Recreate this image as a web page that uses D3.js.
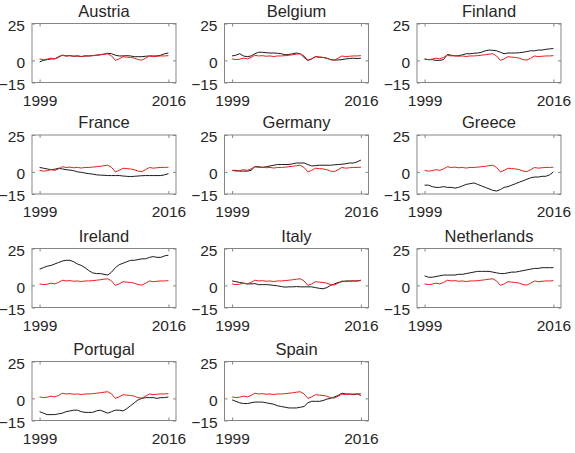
<!DOCTYPE html>
<html>
<head>
<meta charset="utf-8">
<script src="https://cdn.jsdelivr.net/npm/d3@7"></script>
<style>
    body { margin: 0; background: #fff; }
    svg { display: block; font-family: "Liberation Sans", Arial, sans-serif; }
</style>
</head>
<body>
<div id="chart"></div>
<script>
// half-yearly observations, 1999 - 2016
var years = [1999, 1999.5, 2000, 2000.5, 2001, 2001.5, 2002, 2002.5, 2003, 2003.5, 2004, 2004.5,
    2005, 2005.5, 2006, 2006.5, 2007, 2007.5, 2008, 2008.5, 2009, 2009.5, 2010, 2010.5,
    2011, 2011.5, 2012, 2012.5, 2013, 2013.5, 2014, 2014.5, 2015, 2015.5, 2016];

// red line, same in every panel
var benchmark = [1.0, 0.5, 0.8, 1.5, 1.0, 2.0, 3.5, 3.0, 3.2, 2.8, 3.0, 2.6, 3.0, 3.0, 3.2, 3.5, 3.8, 4.2,
    4.5, 3.0, 0.0, 1.0, 2.5, 2.2, 2.0, 1.5, 0.5, 0.2, 1.5, 3.0, 2.5, 2.8, 3.0, 3.0, 3.2];

// black lines, one per country
var austria = [-1, 0, 0.5, 1, 1, 2.5, 3.5, 3, 3.2, 2.8, 3, 2.6, 3, 3, 3.2, 3.5, 3.8, 4.2, 4.8, 4.5,
    3.5, 3, 3, 3.2, 3, 2.5, 2.5, 2.5, 2.8, 3, 3, 3, 3.5, 4.5, 5];
var belgium = [3, 3.5, 4.5, 3, 2.5, 3, 4.5, 5.5, 5.5, 5.2, 5, 5, 4.8, 4.5, 3.8, 4, 4.5, 5, 4.5, 2,
    0, 1, 2.5, 2.2, 2, 1.5, 0.5, 0.2, 0.3, 0.5, 1, 1.2, 1.5, 1.2, 1.5];
var finland = [0.8, 0.5, 0.5, 0, 0, 0.5, 4, 3.5, 3, 3.2, 3.8, 4.5, 4.5, 4.8, 5, 5.5, 6.5, 7, 6.8, 6.5,
    5.5, 4.5, 5, 5, 5, 5.2, 5.5, 6, 6.5, 6.5, 7, 7, 7.5, 7.8, 8];
var france = [3, 2.5, 2, 1.5, 1.8, 2.5, 2, 1.5, 1.2, 0.8, 0, -0.3, -0.8, -1.2, -1.5, -2, -2.2, -2.3, -2.5, -2.5,
    -2.5, -2.5, -2.8, -3, -3.2, -3, -2.8, -2.6, -2.5, -2.5, -2.5, -2.5, -2.5, -2, -1.2];
var germany = [1, 1, 0.5, 0.5, 0.5, 1, 3.5, 3.5, 3, 3.5, 4, 4.5, 5, 5, 5, 5, 5.5, 6, 6, 6,
    5, 4, 4.2, 4.5, 4.5, 4.5, 4.5, 4.8, 5, 5.2, 5.5, 6, 6, 6.8, 8];
var greece = [-9, -9, -10, -10.5, -10.5, -10, -10.5, -10.5, -11, -10.5, -9.5, -8.5, -8, -7.5, -8.5, -9.5, -10.5, -11.5, -12.5, -13,
    -12, -10.5, -10, -9, -8, -7, -6, -5, -4, -3.5, -3.5, -3, -3, -2, 0];
var ireland = [11, 12, 13, 13.5, 14.5, 15.5, 16.5, 17, 17, 16, 14.5, 13.5, 12, 10, 8.5, 8, 8, 7.5, 7, 9,
    12, 14, 15, 16, 17, 17, 17.5, 18, 18, 19, 19.5, 19, 19, 20, 20.5];
var italy = [3, 2.5, 2, 1.5, 1, 1, 1.2, 0.5, 0.5, 0.5, 0.3, 0, -0.3, -0.8, -1.2, -1, -1, -0.8, -1, -1,
    -1, -1, -1.5, -2, -2.3, -1.5, 0, 1, 2, 2.5, 3, 3, 3, 3, 3.5];
var netherlands = [6.5, 5.5, 5.5, 6, 6.5, 7, 7, 7, 7, 7.5, 7.5, 8, 8.5, 9, 9.5, 9.5, 9.5, 9.5, 9, 8.5,
    8, 8, 8.5, 9, 9, 9.5, 10, 10.5, 11, 11.5, 11.5, 12, 12, 12, 12];
var portugal = [-9, -10, -11, -11, -11, -10.5, -10, -9, -8.5, -8, -8, -9, -9.5, -9.5, -9.5, -8.5, -8, -9, -10, -9,
    -8, -8, -8.5, -7, -5, -3, -1, 0, 0.5, 0.5, 0.5, 0, 0.5, 0.5, 1];
var spain = [-1, -2, -3, -3.5, -3.5, -3, -2.5, -2.5, -2.5, -3, -3.5, -4, -5, -5.5, -6, -6.5, -6.5, -6.5, -6, -5.5,
    -3, -2, -2, -2, -1.5, -0.5, 0, 1, 2, 3.5, 3, 3, 2.5, 3, 2];

var countries = ['Austria', 'Belgium', 'Finland', 'France', 'Germany', 'Greece',
    'Ireland', 'Italy', 'Netherlands', 'Portugal', 'Spain'];
var countrySeries = [austria, belgium, finland, france, germany, greece,
    ireland, italy, netherlands, portugal, spain];

var xTicks = [1999, 2016];
var yTicks = [-15, 0, 25];

var width = 575, height = 453;
var panelWidth = 144, panelHeight = 59;
var colLeft = [32, 224.5, 417];
var rowTop = [23.5, 135, 248.5, 361.5];
var textColor = '#262626';
var boxColor = '#858585';

var svg = d3.select('#chart')
    .append('svg')
    .attr('width', width)
    .attr('height', height);

var x = d3.scaleLinear().domain([1998, 2017]).range([0, panelWidth]);
var y = d3.scaleLinear().domain([-15, 25]).range([panelHeight, 0]);

var line = d3.line()
    .x(function (d, i) { return x(years[i]); })
    .y(function (d) { return y(d); });

function styleAxis(g) {
    g.select('.domain').remove();
    g.selectAll('.tick line').attr('stroke', boxColor);
    g.selectAll('.tick text')
        .attr('fill', textColor)
        .attr('font-size', '15.5px')
        .attr('font-family', '"Liberation Sans", Arial, sans-serif');
}

countries.forEach(function (name, index) {
    var panel = svg.append('g')
        .attr('transform', 'translate(' + colLeft[index % 3] + ',' + rowTop[Math.floor(index / 3)] + ')');

    //draw lines
    panel.append('path')
        .attr('d', line(countrySeries[index]))
        .attr('fill', 'none')
        .attr('stroke', '#1a1a1a')
        .attr('stroke-width', 1);
    panel.append('path')
        .attr('d', line(benchmark))
        .attr('fill', 'none')
        .attr('stroke', '#ee1c1c')
        .attr('stroke-width', 1);
    //end lines

    //axes, ticks pointing inward on all four sides
    panel.append('g')
        .attr('transform', 'translate(0,' + panelHeight + ')')
        .call(d3.axisBottom(x).tickValues(xTicks).tickFormat(d3.format('d'))
            .tickSizeInner(-3).tickSizeOuter(0).tickPadding(12))
        .call(styleAxis);
    panel.append('g')
        .call(d3.axisTop(x).tickValues(xTicks).tickFormat('')
            .tickSizeInner(-3).tickSizeOuter(0))
        .call(styleAxis);
    panel.append('g')
        .call(d3.axisLeft(y).tickValues(yTicks)
            .tickSizeInner(-3).tickSizeOuter(0).tickPadding(7))
        .call(styleAxis)
        .selectAll('.tick text').attr('dy', '0.45em');
    panel.append('g')
        .attr('transform', 'translate(' + panelWidth + ',0)')
        .call(d3.axisRight(y).tickValues(yTicks).tickFormat('')
            .tickSizeInner(-3).tickSizeOuter(0))
        .call(styleAxis);

    //box
    panel.append('rect')
        .attr('x', 0).attr('y', 0)
        .attr('width', panelWidth).attr('height', panelHeight)
        .attr('fill', 'none')
        .attr('stroke', boxColor)
        .attr('stroke-width', 1);

    //title
    panel.append('text')
        .text(name)
        .attr('x', panelWidth / 2)
        .attr('y', -7)
        .attr('text-anchor', 'middle')
        .attr('font-size', '16.5px')
        .attr('fill', textColor);
});
</script>
</body>
</html>
